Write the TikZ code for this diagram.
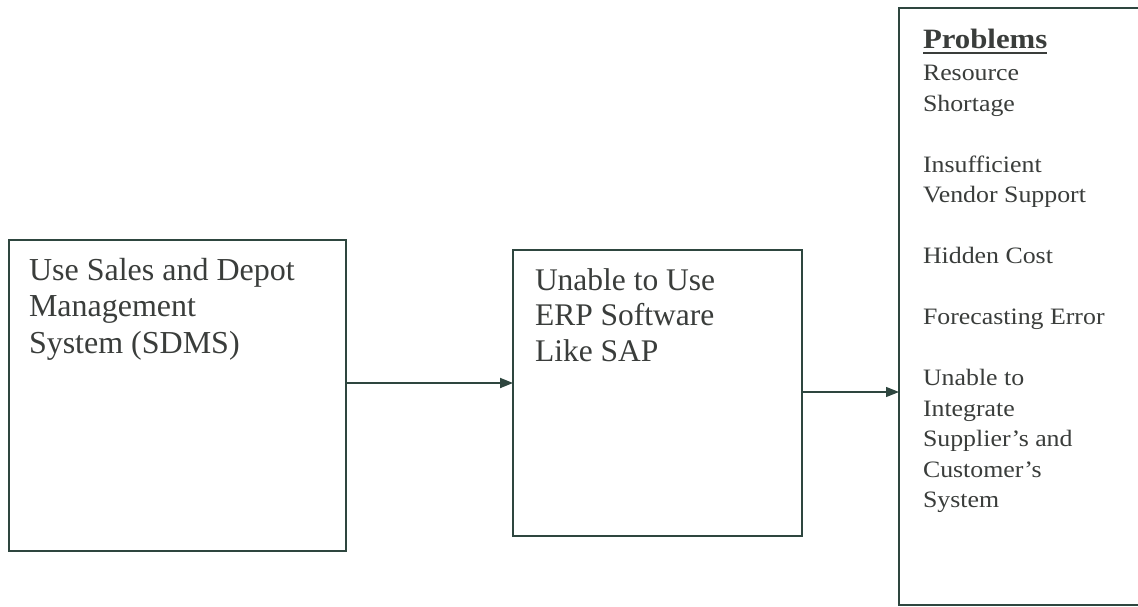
\documentclass[tikz,border=0pt]{standalone}
\usepackage{fontspec}
\setmainfont{Liberation Serif}
\usetikzlibrary{arrows.meta}
\definecolor{linecol}{HTML}{2E463F}
\definecolor{txtcol}{HTML}{3A3D3B}
% bold heading with a thick rule under it
\newcommand\ulword[1]{\setbox0=\hbox{#1}\rlap{\rule[-5.5pt]{\wd0}{2pt}}\box0}

\begin{document}
\begin{tikzpicture}[x=1pt,y=-1pt,
  box/.style={draw=linecol, line width=2pt, inner sep=0pt, outer sep=0pt, anchor=north west},
  label/.style={anchor=north west, inner sep=0pt, outer sep=0pt, align=left, text=txtcol},
  link/.style={draw=linecol, line width=1.8pt, -{Triangle[length=13pt,width=10pt]}}]
\useasboundingbox (0,0) rectangle (1138,607);
\fill[white] (0,0) rectangle (1138,607);
\clip (0,0) rectangle (1138,607);

% the three boxes
\node[box, minimum width=337pt, minimum height=311pt] (b1) at (9,240) {};
\node[box, minimum width=289pt, minimum height=286pt] (b2) at (513,250) {};
\node[box, line width=1.6pt, minimum width=260pt, minimum height=597pt] (b3) at (899,8) {};

% box texts
\node[label, font=\fontsize{32}{36.5}\selectfont] (t1) at (29,258)
  {Use Sales and Depot\\Management\\System (SDMS)};
\node[label, font=\fontsize{31.5}{35.5}\selectfont] (t2) at (535,268.5)
  {Unable to Use\\ERP Software\\Like SAP};
\node[label, xscale=1.1, transform shape, font=\fontsize{23.5}{30.5}\selectfont] (t3) at (923,29)
  {{\fontsize{28}{30}\selectfont\bfseries\ulword{Problems}}\\[2pt]
   Resource\\Shortage\\[30.5pt]
   Insufficient\\Vendor Support\\[30.5pt]
   Hidden Cost\\[30.5pt]
   Forecasting Error\\[30.5pt]
   Unable to\\Integrate\\Supplier’s and\\Customer’s\\System};

% connectors
\coordinate (a1) at (0,383);
\coordinate (a2) at (0,392);
\draw[link] (b1.east |- a1) -- (b2.west |- a1);
\draw[link, line width=1.3pt] (b2.east |- a2) -- (b3.west |- a2);
\end{tikzpicture}
\end{document}
